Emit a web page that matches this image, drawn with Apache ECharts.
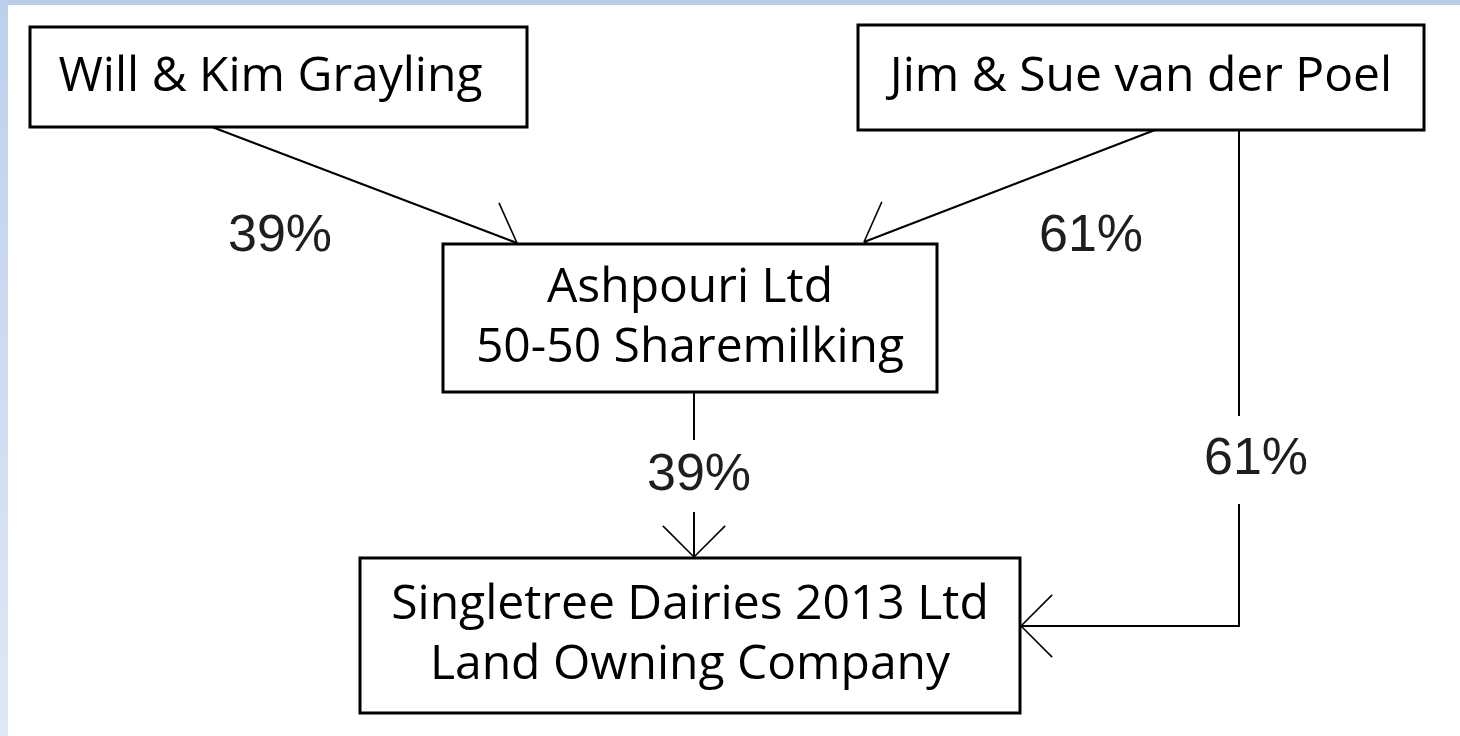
<!DOCTYPE html>
<html>
<head>
<meta charset="utf-8">
<script src="https://cdn.jsdelivr.net/npm/echarts@6/dist/echarts.min.js"></script>
<style>
  html, body { margin: 0; padding: 0; background: #fff; }
  #main { width: 1460px; height: 736px; }
</style>
</head>
<body>
<div id="main"></div>
<script>
// ownership structure
const nodeNames = [
  'Will & Kim Grayling',
  'Jim & Sue van der Poel',
  'Ashpouri Ltd\n50-50 Sharemilking',
  'Singletree Dairies 2013 Ltd\nLand Owning Company'
];
const linkSource = [0, 1, 2, 1];
const linkTarget = [2, 2, 3, 3];
const linkShare = [39, 61, 39, 61];

// layout of the diagram, in page units (x right, y down)
const boxLayout = [
  [30, 27, 527, 127],
  [858, 25, 1424, 130],
  [443, 244, 937, 392],
  [360, 558, 1020, 713]
];
const boxTextShift = [-8, 0, 0, 0];
const linkRoute = [
  [[212, 127], [517, 243]],
  [[1155, 130], [864, 242]],
  [[694, 392], [694, 557]],
  [[1239, 130], [1239, 626], [1021, 626]]
];
const labelLayout = [
  { x: 280, y: 237, pad: [0, 0] },
  { x: 1091, y: 237, pad: [0, 0] },
  { x: 699, y: 476, pad: [10, 6] },
  { x: 1256, y: 460, pad: [18, 6] }
];

const chart = echarts.init(document.getElementById('main'));

function renderBox(params, api) {
  const i = api.value(0);
  const b = boxLayout[i];
  const p0 = api.coord([b[0], b[1]]);
  const p1 = api.coord([b[2], b[3]]);
  return {
    type: 'group',
    children: [
      {
        type: 'rect',
        shape: { x: p0[0], y: p0[1], width: p1[0] - p0[0], height: p1[1] - p0[1] },
        style: { fill: '#fff', stroke: '#000', lineWidth: 3 }
      },
      {
        type: 'text',
        style: {
          text: nodeNames[i],
          x: (p0[0] + p1[0]) / 2 + boxTextShift[i],
          y: (p0[1] + p1[1]) / 2,
          align: 'center',
          verticalAlign: 'middle',
          fontFamily: '"Open Sans", sans-serif',
          fontSize: 48,
          lineHeight: 60,
          fill: '#000'
        }
      }
    ]
  };
}

function renderLink(params, api) {
  const i = api.value(0);
  const pts = linkRoute[i].map(p => api.coord(p));
  const tip = pts[pts.length - 1];
  const prev = pts[pts.length - 2];
  const ang = Math.atan2(prev[1] - tip[1], prev[0] - tip[0]);
  const len = 44, spread = Math.PI / 4;
  const arms = [ang - spread, ang + spread].map(a => ({
    type: 'line',
    shape: { x1: tip[0], y1: tip[1], x2: tip[0] + len * Math.cos(a), y2: tip[1] + len * Math.sin(a) },
    style: { stroke: '#000', lineWidth: 1.6 }
  }));
  return {
    type: 'group',
    children: [
      {
        type: 'polyline',
        shape: { points: pts },
        style: { stroke: '#000', lineWidth: 2, fill: null }
      }
    ].concat(arms)
  };
}

function renderLabel(params, api) {
  const i = api.value(0);
  const l = labelLayout[i];
  const p = api.coord([l.x, l.y]);
  return {
    type: 'text',
    style: {
      text: linkShare[i] + '%',
      x: p[0],
      y: p[1],
      align: 'center',
      verticalAlign: 'middle',
      fontFamily: '"Liberation Sans", Arial, sans-serif',
      fontSize: 52,
      fill: '#1e1e1e',
      backgroundColor: '#fff',
      padding: l.pad
    }
  };
}

const idx = arr => arr.map((d, i) => [i]);

const option = {
  backgroundColor: '#fff',
  animation: false,
  graphic: [
    { type: 'rect', shape: { x: 0, y: 0, width: 1460, height: 5 }, style: { fill: '#b9cde9' }, z: 0 },
    {
      type: 'rect', shape: { x: 0, y: 0, width: 8, height: 736 },
      style: {
        fill: new echarts.graphic.LinearGradient(0, 0, 0, 1, [
          { offset: 0, color: '#bcd0ec' },
          { offset: 1, color: '#dfe8f5' }
        ])
      },
      z: 0
    }
  ],
  grid: { left: 0, right: 0, top: 0, bottom: 0 },
  xAxis: { type: 'value', min: 0, max: 1460, show: false },
  yAxis: { type: 'value', min: 0, max: 736, inverse: true, show: false },
  series: [
    { type: 'custom', renderItem: renderLink, data: idx(linkSource), z: 1, clip: false },
    { type: 'custom', renderItem: renderLabel, data: idx(linkShare), z: 2, clip: false },
    { type: 'custom', renderItem: renderBox, data: idx(nodeNames), z: 3, clip: false }
  ]
};

chart.setOption(option);
</script>
</body>
</html>
